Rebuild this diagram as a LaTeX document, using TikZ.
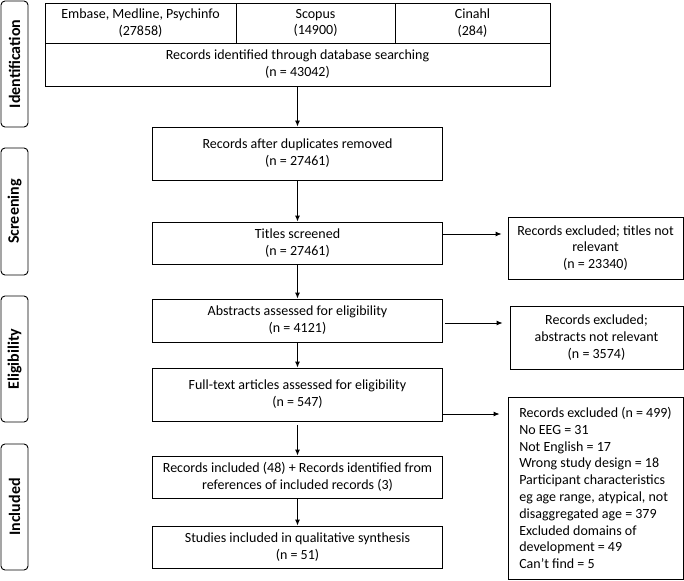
\documentclass[tikz,border=0pt]{standalone}
\usepackage{fontspec}
\setmainfont{Carlito}
\usepackage{tikz}
\usetikzlibrary{arrows.meta}

\begin{document}
\begin{tikzpicture}[x=1pt,y=-1pt,
box/.style={draw,line width=0.9pt,align=center,inner sep=2pt,font=\fontsize{14}{16.8}\selectfont},
stage/.style={draw,line width=0.9pt,rounded corners=4pt,rotate=90,minimum height=27pt,inner sep=0pt,font=\fontsize{16}{18}\selectfont\bfseries},
arr/.style={-{Latex[length=6pt,width=5pt]},line width=0.9pt}]
\useasboundingbox (0,0) rectangle (684,580);

\node[stage,minimum width=126pt] (identification) at (14.5,64) {Identification};
\node[stage,minimum width=127pt] (screening) at (14.5,211.5) {Screening};
\node[stage,minimum width=126pt] (eligibility) at (14.5,359) {Eligibility};
\node[stage,minimum width=126pt] (included) at (14.5,507) {Included};

\node[box,minimum width=191pt,minimum height=40pt] (embase) at (140.5,23) {Embase, Medline, Psychinfo\\(27858)};
\node[box,minimum width=159pt,minimum height=40pt] (scopus) at (315.5,23) {Scopus\\(14900)};
\node[box,minimum width=155pt,minimum height=40pt] (cinahl) at (472.5,23) {Cinahl\\(284)};
\node[box,minimum width=505pt,minimum height=43pt] (identified) at (297.5,64.5) {Records identified through database searching\\(n = 43042)};

\node[box,minimum width=290pt,minimum height=53pt] (duplicates) at (297.5,153.5) {Records after duplicates removed\\(n = 27461)};
\node[box,minimum width=290pt,minimum height=42pt] (titles) at (297.5,243) {Titles screened\\(n = 27461)};
\node[box,minimum width=175pt,minimum height=62pt] (titlesex) at (595.5,248) {Records excluded; titles not\\relevant\\(n = 23340)};

\node[box,minimum width=290pt,minimum height=43pt] (abstracts) at (297.5,320.5) {Abstracts assessed for eligibility\\(n = 4121)};
\node[box,minimum width=173pt,minimum height=63pt] (abstractsex) at (596.5,337.5) {Records excluded;\\abstracts not relevant\\(n = 3574)};

\node[box,minimum width=290pt,minimum height=53pt] (fulltext) at (297.5,394.5) {Full-text articles assessed for eligibility\\(n = 547)};
\node[box,minimum width=175pt,minimum height=182pt,align=left] (fulltextex) at (595.5,488) {Records excluded (n = 499)\\No EEG = 31\\Not English = 17\\Wrong study design = 18\\Participant characteristics\\eg age range, atypical, not\\disaggregated age = 379\\Excluded domains of\\development = 49\\Can’t find = 5};

\node[box,minimum width=290pt,minimum height=42pt] (records) at (297.5,477) {Records included (48) + Records identified from\\references of included records (3)};
\node[box,minimum width=290pt,minimum height=42pt] (studies) at (297.5,547) {Studies included in qualitative synthesis\\(n = 51)};

\draw[arr] (identified) -- (duplicates);
\draw[arr] (duplicates) -- (titles);
\draw[arr] (titles) -- (abstracts);
\draw[arr] (abstracts) -- (fulltext);
\draw[arr,shorten <=4pt] (fulltext) -- (records);
\draw[arr] (records) -- (studies);

\draw[arr,shorten >=6pt] ([yshift=9pt]titles.east) -- ([yshift=9pt]titles.east -| titlesex.west);
\draw[arr,shorten <=2pt,shorten >=7pt] ([yshift=-2.5pt]abstracts.east) -- ([yshift=-2.5pt]abstracts.east -| abstractsex.west);
\draw[arr,shorten >=8pt] ([yshift=-19.5pt]fulltext.east) -- ([yshift=-19.5pt]fulltext.east -| fulltextex.west);
\end{tikzpicture}
\end{document}
